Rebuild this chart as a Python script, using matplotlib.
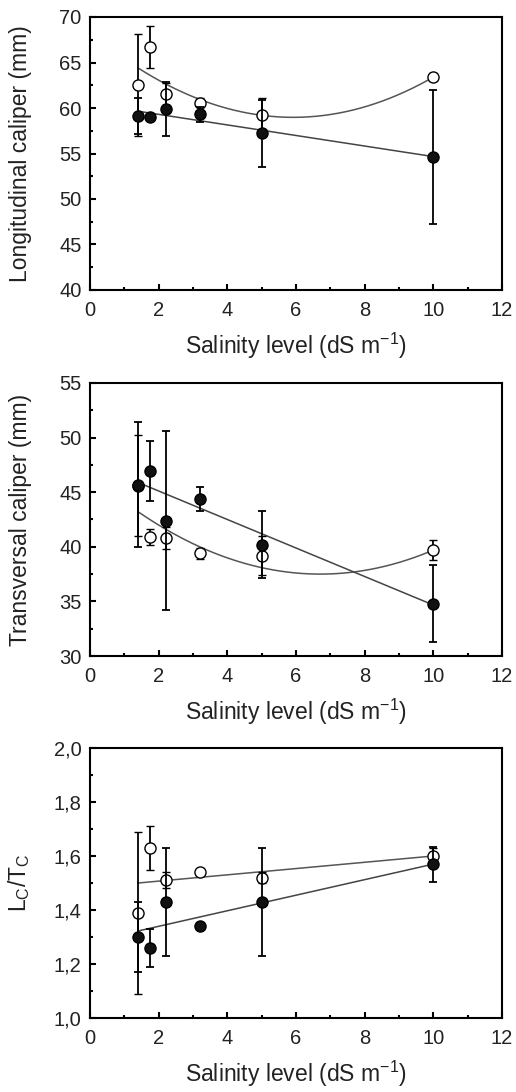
import numpy as np
import matplotlib
matplotlib.use("Agg")
import matplotlib.pyplot as plt
from matplotlib.ticker import MultipleLocator, FuncFormatter

plt.rcParams['font.family'] = ['Liberation Sans', 'DejaVu Sans']
plt.rcParams['mathtext.fontset'] = 'custom'
plt.rcParams['mathtext.rm'] = 'Liberation Sans'
plt.rcParams['mathtext.it'] = 'Liberation Sans'

# Salinity levels (dS m-1)
salinity = [1.4, 1.75, 2.2, 3.2, 5.0, 10.0]

# Longitudinal caliper (mm)
long_open = [62.5, 66.7, 61.5, 60.6, 59.2, 63.4]
long_open_err = [5.6, 2.3, 1.2, 0.5, 1.9, 0.4]
long_filled = [59.1, 59.0, 59.9, 59.3, 57.2, 54.6]
long_filled_err = [2.0, 0.3, 3.0, 0.8, 3.7, 7.4]
long_open_fit = [0.2656, -3.1444, 68.28]   # quadratic
long_filled_fit = [-0.58, 60.46]           # linear

# Transversal caliper (mm)
trans_open = [45.6, 40.9, 40.8, 39.4, 39.2, 39.7]
trans_open_err = [4.6, 0.7, 1.0, 0.5, 1.8, 0.9]
trans_filled = [45.7, 46.9, 42.4, 44.4, 40.2, 34.8]
trans_filled_err = [5.7, 2.75, 8.2, 1.1, 3.1, 3.5]
trans_open_fit = [0.2028, -2.720, 46.62]   # quadratic
trans_filled_fit = [-1.305, 47.72]         # linear

# Lc/Tc ratio
ratio_open = [1.39, 1.63, 1.51, 1.54, 1.52, 1.60]
ratio_open_err = [0.30, 0.08, 0.03, 0.01, 0.02, 0.03]
ratio_filled = [1.30, 1.26, 1.43, 1.34, 1.43, 1.57]
ratio_filled_err = [0.13, 0.07, 0.20, 0.01, 0.20, 0.065]
ratio_open_fit = [0.01163, 1.4837]
ratio_filled_fit = [0.0288, 1.282]

xlabel = 'Salinity level (dS m$^{-1}$)'
ylabels = ['Longitudinal caliper (mm)', 'Transversal caliper (mm)',
           r'L$_\mathregular{C}$/T$_\mathregular{C}$']
ylims = [(40, 70), (30, 55), (1.0, 2.0)]
ymajor = [5, 5, 0.2]
yminor = [2.5, 2.5, 0.1]

W, H = 516, 1092
fig = plt.figure(figsize=(W / 100, H / 100), dpi=100)

boxes = [(90, 17, 502, 290), (90, 383, 502, 656), (90, 748, 502, 1018)]
panels = [
    (long_open, long_open_err, long_filled, long_filled_err, long_open_fit, long_filled_fit),
    (trans_open, trans_open_err, trans_filled, trans_filled_err, trans_open_fit, trans_filled_fit),
    (ratio_open, ratio_open_err, ratio_filled, ratio_filled_err, ratio_open_fit, ratio_filled_fit),
]

txt = '#222222'
xs = np.linspace(min(salinity), max(salinity), 200)

for i, ((l, t, r, b), (yo, eo, yf, ef, fo, ff)) in enumerate(zip(boxes, panels)):
    ax = fig.add_axes([l / W, 1 - b / H, (r - l) / W, (b - t) / H])
    ax.plot(xs, np.polyval(fo, xs), color='#555555', lw=1.1, zorder=2)
    ax.plot(xs, np.polyval(ff, xs), color='#444444', lw=1.1, zorder=2)
    ax.errorbar(salinity, yo, yerr=eo, fmt='o', color='black', ms=8, mfc='white',
                mec='black', mew=1.0, ecolor='black', elinewidth=1.3, capsize=3, capthick=1.3, zorder=3)
    ax.errorbar(salinity, yf, yerr=ef, fmt='o', color='black', ms=8, mfc='#111111',
                mec='black', ecolor='black', elinewidth=1.3, capsize=3, capthick=1.3, zorder=4)
    ax.set_xlim(0, 12)
    ax.set_ylim(*ylims[i])
    ax.xaxis.set_major_locator(MultipleLocator(2))
    ax.xaxis.set_minor_locator(MultipleLocator(1))
    ax.yaxis.set_major_locator(MultipleLocator(ymajor[i]))
    ax.yaxis.set_minor_locator(MultipleLocator(yminor[i]))
    if i == 2:
        ax.yaxis.set_major_formatter(FuncFormatter(lambda v, p: f'{v:.1f}'.replace('.', ',')))
    ax.tick_params(which='both', direction='in', top=False, right=False,
                   labelsize=14.5, labelcolor=txt, width=1.5)
    ax.tick_params(which='major', length=4.5)
    ax.tick_params(which='minor', length=2.5)
    ax.tick_params(axis='x', pad=8)
    ax.tick_params(axis='y', pad=6)
    for s in ax.spines.values():
        s.set_linewidth(1.5)
    ax.set_xlabel(xlabel, fontsize=16.5, color=txt)
    ax.set_ylabel(ylabels[i], fontsize=16.5, color=txt)
    ax.xaxis.set_label_coords(0.5, -0.15)
    ax.yaxis.set_label_coords(-0.14, 0.5)

fig.savefig('out.png', dpi=100)
